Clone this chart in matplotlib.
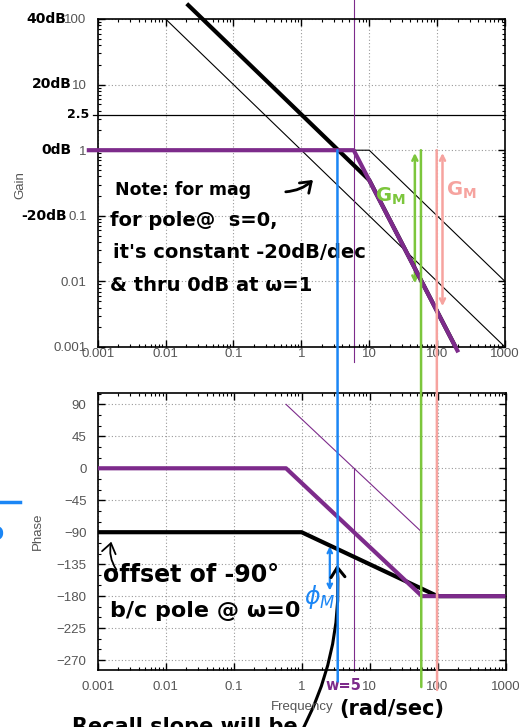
import numpy as np
import matplotlib
matplotlib.use("Agg")
import matplotlib.pyplot as plt
from matplotlib.ticker import FixedLocator, FixedFormatter, LogLocator, MultipleLocator, NullFormatter
from matplotlib.patches import ConnectionPatch, FancyArrowPatch
from matplotlib.lines import Line2D

# ---- data ----
freq_ticks = [0.001, 0.01, 0.1, 1, 10, 100, 1000]
freq_labels = ['0.001', '0.01', '0.1', '1', '10', '100', '1000']
gain_ticks = [0.001, 0.01, 0.1, 1, 10, 100]
gain_labels = ['0.001', '0.01', '0.1', '1', '10', '100']
phase_ticks = [-270, -225, -180, -135, -90, -45, 0, 45, 90]

# magnitude asymptotes (linear gain)
w_int = [0.01, 1000]            # 1/s reference, 0 dB at w=1
g_int = [100, 0.001]
w_pole = [5.9, 10, 1000]        # 1/(1+s/10)
g_pole = [1, 1, 0.01]
w_ol = [0.0205, 10, 187]        # K/(s(1+s/10))
g_ol = [171, 0.35, 0.001]
w_2nd = [0.00069, 5.9, 205]     # 2nd order asymptote
g_2nd = [1, 1, 0.00083]
k_line = 3.5

# phase asymptotes (deg)
w_ph_ol = [0.001, 1, 100, 1000]
p_ph_ol = [-90, -90, -180, -180]
w_ph_2nd = [0.001, 0.59, 59, 1000]
p_ph_2nd = [0, 0, -180, -180]
w_ph_ref = [0.59, 59]
p_ph_ref = [90, -90]

# marker frequencies
w_gc = 3.4       # gain crossover (blue)
w_pc = 57.7      # phase crossover (green)
w_pink = 98.5
w_n = 5.9        # natural freq (thin purple)
w_gm_green, g_gm_green = 47, 0.0085
w_gm_pink, g_gm_pink = 120, 0.0038
w_pm, p_pm = 2.6, [-106, -176]

PURPLE = '#7d2b8b'
BLUE = '#1b86f5'
GREEN = '#7cc63c'
PINK = '#f6a39f'
GRAY = '#555555'
HAND = dict(family='DejaVu Sans', fontweight='bold', color='black')

W, H = 519, 727


def fx(x):
    return x / W


def fy(y):
    return 1 - y / H


fig = plt.figure(figsize=(W / 100, H / 100), dpi=100)
ax1 = fig.add_axes([fx(97.7), fy(347), (505 - 97.7) / W, (347 - 19) / H])
ax2 = fig.add_axes([fx(97.7), fy(670), (505.5 - 97.7) / W, (670 - 393) / H])

for ax in (ax1, ax2):
    ax.set_xscale('log')
    ax.set_xlim(0.001, 1000)
    ax.xaxis.set_major_locator(FixedLocator(freq_ticks))
    ax.xaxis.set_major_formatter(FixedFormatter(freq_labels))
    ax.xaxis.set_minor_locator(LogLocator(base=10, subs=np.arange(2, 10), numticks=50))
    ax.xaxis.set_minor_formatter(NullFormatter())
    ax.tick_params(which='both', direction='in', top=True, right=True,
                   colors='black', labelcolor=GRAY, labelsize=9.5)
    ax.tick_params(which='major', length=5, width=1)
    ax.tick_params(which='minor', length=2.5, width=0.8)
    ax.grid(True, which='major', linestyle=(0, (1, 2)), color='#999999', lw=0.8)
    for s in ax.spines.values():
        s.set_linewidth(1.2)

ax1.tick_params(axis='y', pad=8)
ax1.tick_params(axis='x', pad=1)
ax2.tick_params(axis='y', pad=8)
ax2.tick_params(axis='x', pad=8)

# ---- gain plot ----
ax1.set_yscale('log')
ax1.set_ylim(0.001, 100)
ax1.yaxis.set_major_locator(FixedLocator(gain_ticks))
ax1.yaxis.set_major_formatter(FixedFormatter(gain_labels))
ax1.yaxis.set_minor_locator(LogLocator(base=10, subs=np.arange(2, 10), numticks=50))
ax1.yaxis.set_minor_formatter(NullFormatter())

ax1.plot([0.00085, 1000], [k_line, k_line], color='black', lw=0.9, clip_on=False)
ax1.plot(w_int, g_int, color='black', lw=0.8)
ax1.plot(w_pole, g_pole, color='black', lw=0.8)
ax1.plot(w_ol, g_ol, color='black', lw=3, clip_on=False, solid_capstyle='butt', zorder=4)
ax1.plot(w_2nd, g_2nd, color=PURPLE, lw=3, clip_on=False, solid_capstyle='butt', zorder=5)
ax1.plot([w_n, w_n], [300, 0.0006], color=PURPLE, lw=0.8, clip_on=False)

ax1.annotate('', xy=(w_gm_green, 1), xytext=(w_gm_green, g_gm_green),
             arrowprops=dict(arrowstyle='<->', color=GREEN, lw=1.8, mutation_scale=9))
ax1.annotate('', xy=(w_gm_pink, 1), xytext=(w_gm_pink, g_gm_pink),
             arrowprops=dict(arrowstyle='<->', color=PINK, lw=1.8, mutation_scale=9))

# ---- phase plot ----
ax2.set_ylim(-284, 106)
ax2.yaxis.set_major_locator(FixedLocator(phase_ticks))
ax2.yaxis.set_minor_locator(MultipleLocator(15))

ax2.plot(w_ph_ref, p_ph_ref, color=PURPLE, lw=0.8)
ax2.plot(w_ph_ol, p_ph_ol, color='black', lw=3, solid_capstyle='butt', zorder=4)
ax2.plot(w_ph_2nd, p_ph_2nd, color=PURPLE, lw=3, solid_capstyle='butt', zorder=5)
ax2.plot([w_n, w_n], [0, -286], color=PURPLE, lw=0.8, clip_on=False)
ax2.annotate('', xy=(w_pm, p_pm[0]), xytext=(w_pm, p_pm[1]),
             arrowprops=dict(arrowstyle='<->', color=BLUE, lw=1.6, mutation_scale=8))

for ax in (ax1, ax2):
    for lab in ax.get_xticklabels() + ax.get_yticklabels():
        lab.set_family('Liberation Sans')

# vertical marker lines spanning both plots
for w, bottom, col in [(w_gc, -300, BLUE), (w_pc, -308, GREEN), (w_pink, -312, PINK)]:
    cp = ConnectionPatch(xyA=(w, 1), coordsA=ax1.transData, xyB=(w, bottom), coordsB=ax2.transData,
                         color=col, lw=1.8, zorder=6)
    fig.add_artist(cp)

# ---- labels ----
fig.text(fx(20), fy(185), 'Gain', rotation=90, ha='center', va='center', color=GRAY,
         fontsize=9.5, family='Liberation Sans')
fig.text(fx(38), fy(531), 'Phase', rotation=90, ha='center', va='center', color=GRAY,
         fontsize=9.5, family='Liberation Sans')
fig.text(fx(302), fy(707), 'Frequency', ha='center', va='center', color=GRAY,
         fontsize=9.5, family='Liberation Sans')

# ---- handwritten notes ----
fig.text(fx(66), fy(19), '40dB', ha='right', va='center', fontsize=10, **HAND)
fig.text(fx(72), fy(84), '20dB', ha='right', va='center', fontsize=10, **HAND)
fig.text(fx(89), fy(115), '2.5', ha='right', va='center', fontsize=9, **HAND)
fig.text(fx(72), fy(150), '0dB', ha='right', va='center', fontsize=10, **HAND)
fig.text(fx(67), fy(216), '-20dB', ha='right', va='center', fontsize=10, **HAND)

fig.text(fx(115), fy(190), 'Note: for mag', ha='left', va='center', fontsize=12.5, **HAND)
fig.text(fx(110), fy(220), 'for pole@  s=0,', ha='left', va='center', fontsize=14, **HAND)
fig.text(fx(113), fy(253), "it's constant -20dB/dec", ha='left', va='center', fontsize=14, **HAND)
fig.text(fx(110), fy(285), '& thru 0dB at ω=1', ha='left', va='center', fontsize=14, **HAND)

fig.text(fx(390), fy(196), r'$\mathbf{G_M}$', ha='center', va='center', fontsize=14, color=GREEN)
fig.text(fx(461), fy(190), r'$\mathbf{G_M}$', ha='center', va='center', fontsize=14, color=PINK)
fig.text(fx(320), fy(597), r'$\phi_M$', ha='center', va='center', fontsize=17, color=BLUE)

fig.text(fx(103), fy(575), 'offset of -90°', ha='left', va='center', fontsize=17, **HAND)
fig.text(fx(110), fy(611), 'b/c pole @ ω=0', ha='left', va='center', fontsize=16, **HAND)
fig.text(fx(72), fy(733), 'Recall slope will be', ha='left', va='baseline', fontsize=15, **HAND)
fig.text(fx(392), fy(709), '(rad/sec)', ha='center', va='center', fontsize=15, **HAND)
fig.text(fx(361), fy(686), 'w=5', ha='right', va='center', fontsize=10.5,
         family='DejaVu Sans', fontweight='bold', color=PURPLE)

# stray blue marks on the left edge
fig.add_artist(Line2D([fx(0), fx(20)], [fy(501.7), fy(501.7)], color=BLUE, lw=2.5))
fig.text(fx(-4), fy(533), 'o', ha='center', va='center', fontsize=17, color=BLUE,
         family='DejaVu Sans', fontweight='bold')

# hand-drawn arrows
for a, b, rad, lw in [((283, 192), (315, 178), 0.2, 2.0),
                      ((118, 572), (112, 539), -0.25, 1.3),
                      ((297, 740), (337, 562), 0.15, 2.2)]:
    arr = FancyArrowPatch((fx(a[0]), fy(a[1])), (fx(b[0]), fy(b[1])), transform=fig.transFigure,
                          connectionstyle=f'arc3,rad={rad}', arrowstyle='->,head_length=0.35,head_width=0.25',
                          mutation_scale=20, color='black', lw=lw)
    fig.add_artist(arr)

fig.savefig('out.png', dpi=100)
